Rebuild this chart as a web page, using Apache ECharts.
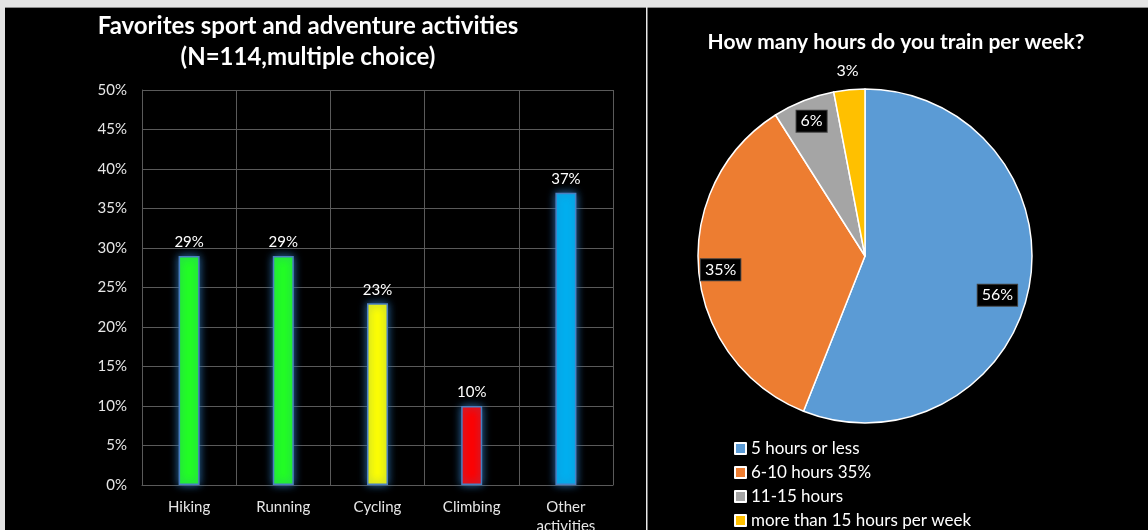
<!DOCTYPE html>
<html>
<head>
<meta charset="utf-8">
<script src="https://cdn.jsdelivr.net/npm/echarts@6/dist/echarts.min.js"></script>
<style>
  html, body { margin: 0; padding: 0; background: #000; overflow: hidden; }
  #chart { width: 1148px; height: 560px; }
</style>
</head>
<body>
<div id="chart"></div>
<script>
// Favourite activities (share of respondents, %)
const activities = ['Hiking', 'Running', 'Cycling', 'Climbing', 'Other\nactivities'];
const activityShares = [29, 29, 23, 10, 37];
const activityColors = ['#22ff22', '#22ff22', '#ffff00', '#ff0000', '#00b0f0'];

// Weekly training hours (share of respondents, %)
const hourBands = ['5 hours or less', '6-10 hours 35%', '11-15 hours', 'more than 15 hours per week'];
const hourShares = [56, 35, 6, 3];
const hourColors = ['#5b9bd5', '#ed7d31', '#a5a5a5', '#ffc000'];

const FONT = 'Lato, "Noto Sans", sans-serif';
const PIE_C = [865, 256];
const PIE_R = 167;

// the canvas runs a little below the visible page so the legend's last row
// and the wrapped category label can sit at the bottom edge
const chart = echarts.init(document.getElementById('chart'), null, { renderer: 'canvas' });

const labelBox = {
  show: true,
  position: 'inside',
  formatter: '{c}%',
  color: '#ffffff',
  fontFamily: FONT,
  fontSize: 16,
  backgroundColor: '#000000',
  borderColor: '#404040',
  borderWidth: 1,
  padding: [3, 4, 2, 4]
};

chart.setOption({
  backgroundColor: '#000000',
  animation: false,
  graphic: [
    // light frame strips and panel divider
    { type: 'rect', shape: { x: 0, y: 0, width: 1148, height: 7 }, style: { fill: '#e4e4e4' }, silent: true },
    { type: 'rect', shape: { x: 0, y: 0, width: 5, height: 560 }, style: { fill: '#e4e4e4' }, silent: true },
    { type: 'rect', shape: { x: 5, y: 7, width: 1143, height: 1 }, style: { fill: '#8c8c8c' }, silent: true },
    { type: 'rect', shape: { x: 646, y: 7, width: 1.5, height: 553 }, style: { fill: '#e8e8e8' }, silent: true },
    {
      type: 'text', x: 308, y: 26, silent: true,
      style: {
        text: 'Favorites sport and adventure activities',
        fill: '#ffffff', font: 'bold 24px ' + FONT, textAlign: 'center', textVerticalAlign: 'middle'
      }
    },
    {
      type: 'text', x: 308, y: 57, silent: true,
      style: {
        text: '(N=114,multiple choice)',
        fill: '#ffffff', font: 'bold 24px ' + FONT, textAlign: 'center', textVerticalAlign: 'middle'
      }
    },
    {
      type: 'text', x: 896, y: 42, silent: true,
      style: {
        text: 'How many hours do you train per week?',
        fill: '#ffffff', font: 'bold 21px ' + FONT, textAlign: 'center', textVerticalAlign: 'middle'
      }
    }
  ],
  grid: { left: 142, right: 535, top: 90, bottom: 75, containLabel: false },
  xAxis: {
    type: 'category',
    data: activities,
    boundaryGap: true,
    axisLine: { show: true, lineStyle: { color: '#5a5a5a', width: 1 } },
    axisTick: { show: false },
    splitLine: { show: true, lineStyle: { color: '#5a5a5a', width: 1 } },
    axisLabel: { color: '#e6e6e6', fontFamily: FONT, fontSize: 15, lineHeight: 19, margin: 13, interval: 0 }
  },
  yAxis: {
    type: 'value',
    min: 0, max: 50, interval: 5,
    axisLine: { show: true, lineStyle: { color: '#5a5a5a', width: 1 } },
    axisTick: { show: false },
    splitLine: { show: true, lineStyle: { color: '#5a5a5a', width: 1 } },
    axisLabel: { formatter: '{value}%', color: '#e6e6e6', fontFamily: FONT, fontSize: 15, margin: 15 }
  },
  legend: {
    orient: 'vertical',
    left: 729, top: 435,
    itemWidth: 11, itemHeight: 11, itemGap: 7,
    icon: 'rect',
    data: hourBands,
    textStyle: { color: '#ffffff', fontFamily: FONT, fontSize: 17, lineHeight: 17 },
    selectedMode: false
  },
  series: [
    {
      type: 'bar',
      name: 'Activities',
      barWidth: 21,
      data: activityShares.map((v, i) => ({
        value: v,
        itemStyle: {
          color: activityColors[i],
          borderColor: '#4a7fc1',
          borderWidth: 1.5,
          shadowBlur: 8,
          shadowColor: 'rgba(46,117,182,0.95)'
        }
      })),
      label: {
        show: true, position: 'top', distance: 6,
        formatter: '{c}%', color: '#ffffff', fontFamily: FONT, fontSize: 15
      }
    },
    {
      type: 'pie',
      name: 'Hours',
      center: PIE_C,
      radius: PIE_R,
      startAngle: 90,
      clockwise: true,
      data: hourBands.map((n, i) => ({ name: n, value: hourShares[i], itemStyle: { color: hourColors[i] } })),
      itemStyle: { borderColor: '#ffffff', borderWidth: 1.5 },
      label: { show: false },
      labelLine: { show: false },
      emphasis: { disabled: true }
    },
    {
      // value boxes drawn near the rim of the large slices
      type: 'pie',
      name: 'Hours labels',
      silent: true,
      center: PIE_C,
      radius: [118, 166],
      startAngle: 90,
      clockwise: true,
      data: hourBands.map((n, i) => ({
        name: n, value: hourShares[i],
        label: i === 0 ? Object.assign({}, labelBox, { offset: [-10, 12] })
          : (i < 3 ? labelBox : { show: false })
      })),
      itemStyle: { color: 'rgba(0,0,0,0)', borderWidth: 0 },
      labelLine: { show: false },
      emphasis: { disabled: true }
    },
    {
      // small slice value shown just outside the rim
      type: 'pie',
      name: 'Hours outer labels',
      silent: true,
      center: PIE_C,
      radius: [176, 190],
      startAngle: 90,
      clockwise: true,
      data: hourBands.map((n, i) => ({
        name: n, value: hourShares[i],
        label: i === 3
          ? { show: true, position: 'inside', formatter: '{c}%', color: '#ffffff', fontFamily: FONT, fontSize: 16 }
          : { show: false }
      })),
      itemStyle: { color: 'rgba(0,0,0,0)', borderWidth: 0 },
      labelLine: { show: false },
      emphasis: { disabled: true }
    }
  ]
});
</script>
</body>
</html>
